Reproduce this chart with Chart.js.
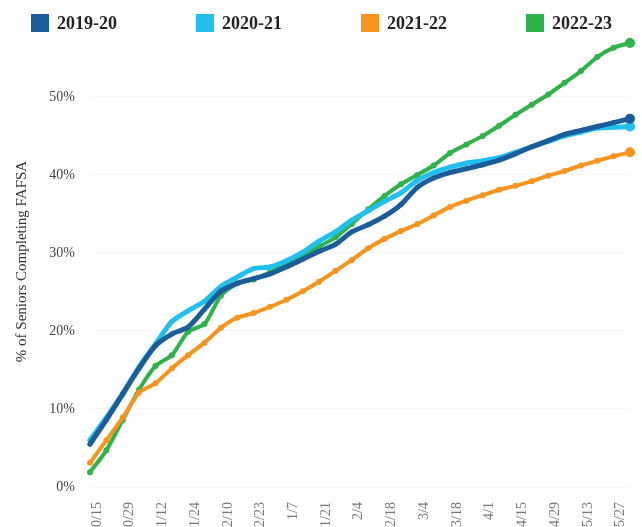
<!DOCTYPE html>
<html>
<head>
<meta charset="utf-8">
<script src="https://cdn.jsdelivr.net/npm/chart.js@4"></script>
<style>
  html, body { margin: 0; padding: 0; background: #fff; overflow: hidden; }
  #wrap { position: relative; width: 642px; height: 527px; overflow: hidden; }
  #chart { position: absolute; left: 0; top: 0; }
  #legend { position: absolute; left: 31px; top: 14px; display: flex; }
  .item { width: 165px; display: flex; align-items: center; height: 18px;
          font: bold 18px "Liberation Serif", "DejaVu Serif", serif; color: #222; }
  .box { width: 18px; height: 18px; margin-right: 8px; }
</style>
</head>
<body>
<div id="wrap">
  <canvas id="chart" width="642" height="545"></canvas>
  <div id="legend"></div>
</div>
<script>
// weekly snapshots, every other one gets a label
var weeks = ['10/15','10/22','10/29','11/5','11/12','11/18','11/24','12/3','12/10','12/17',
  '12/23','12/31','1/7','1/14','1/21','1/28','2/4','2/11','2/18','2/25','3/4','3/11',
  '3/18','3/25','4/1','4/8','4/15','4/22','4/29','5/6','5/13','5/20','5/27','6/3'];

var seriesNames = ['2019-20', '2020-21', '2021-22', '2022-23'];
var seriesColors = ['#1b5c9b', '#1fbfee', '#f7941e', '#2eb34b'];

var y2019 = [5.5, 8.6, 11.9, 15.2, 18.1, 19.6, 20.5, 22.8, 25.1, 26.1, 26.7, 27.3, 28.2, 29.2,
  30.2, 31.1, 32.7, 33.6, 34.7, 36.2, 38.4, 39.6, 40.3, 40.8, 41.3, 41.9, 42.7, 43.6, 44.4,
  45.2, 45.7, 46.2, 46.7, 47.2];
var y2020 = [6.0, 8.9, 12.0, 15.4, 18.3, 21.2, 22.6, 23.8, 25.7, 26.9, 28.0, 28.2, 29.0, 30.1,
  31.5, 32.7, 34.2, 35.4, 36.6, 37.7, 39.3, 40.3, 41.0, 41.5, 41.8, 42.2, 42.9, 43.6, 44.3,
  45.0, 45.5, 46.0, 46.1, 46.2];
var y2021 = [3.1, 6.0, 8.9, 12.1, 13.3, 15.2, 16.9, 18.5, 20.4, 21.7, 22.3, 23.1, 24.0, 25.1,
  26.3, 27.7, 29.1, 30.6, 31.8, 32.8, 33.7, 34.8, 35.9, 36.7, 37.4, 38.1, 38.6, 39.2, 39.9,
  40.5, 41.2, 41.8, 42.4, 42.9];
var y2022 = [1.9, 4.7, 8.6, 12.5, 15.5, 16.9, 19.9, 20.9, 24.5, 26.1, 26.6, 27.5, 28.6, 29.6,
  30.8, 32.0, 33.7, 35.6, 37.3, 38.8, 40.0, 41.2, 42.8, 43.9, 45.0, 46.3, 47.7, 49.0, 50.3,
  51.8, 53.3, 55.1, 56.3, 56.9];
var allSeries = [y2019, y2020, y2021, y2022];

var legendEl = document.getElementById('legend');
seriesNames.forEach(function(name, i) {
  var it = document.createElement('div');
  it.className = 'item';
  it.innerHTML = '<span class="box" style="background:' + seriesColors[i] + '"></span>' + name;
  legendEl.appendChild(it);
});

var last = weeks.length - 1;
var datasets = allSeries.map(function(vals, i) {
  return {
    label: seriesNames[i],
    data: vals,
    borderColor: seriesColors[i],
    backgroundColor: seriesColors[i],
    borderWidth: i < 2 ? 5 : 4,
    borderCapStyle: 'round',
    borderJoinStyle: 'round',
    tension: 0.25,
    pointRadius: vals.map(function(v, j) { return j === last ? 5 : (i < 2 ? 2.5 : 3); }),
    pointBorderWidth: 0,
    clip: false
  };
});

new Chart(document.getElementById('chart'), {
  type: 'line',
  data: { labels: weeks, datasets: datasets },
  options: {
    responsive: false,
    animation: false,
    layout: { padding: { top: 36, right: 12, left: 0, bottom: 0 } },
    plugins: { legend: { display: false }, tooltip: { enabled: false } },
    scales: {
      x: {
        grid: { display: false },
        border: { display: false },
        afterFit: function(scale) {
          scale.height = 545 - 487;
          scale.paddingLeft = 0;
          scale.paddingRight = 0;
        },
        ticks: {
          autoSkip: false,
          minRotation: 90,
          maxRotation: 90,
          padding: 7,
          labelOffset: 7,
          color: '#777',
          font: { family: '"Liberation Serif", serif', size: 14 },
          callback: function(v, idx) { return idx % 2 === 0 ? weeks[idx] : ''; }
        }
      },
      y: {
        min: 0,
        max: 57.8,
        grid: { color: '#f5f5f5', drawTicks: false },
        border: { display: false },
        afterFit: function(scale) { scale.width = 90; },
        title: {
          display: true,
          text: '% of Seniors Completing FAFSA',
          color: '#333',
          padding: { top: 13, bottom: 0 },
          font: { family: '"Liberation Serif", serif', size: 15 }
        },
        ticks: {
          stepSize: 10,
          includeBounds: false,
          padding: 15,
          color: '#444',
          font: { family: '"Liberation Serif", serif', size: 14 },
          callback: function(v) { return v + '%'; }
        }
      }
    }
  }
});
</script>
</body>
</html>
